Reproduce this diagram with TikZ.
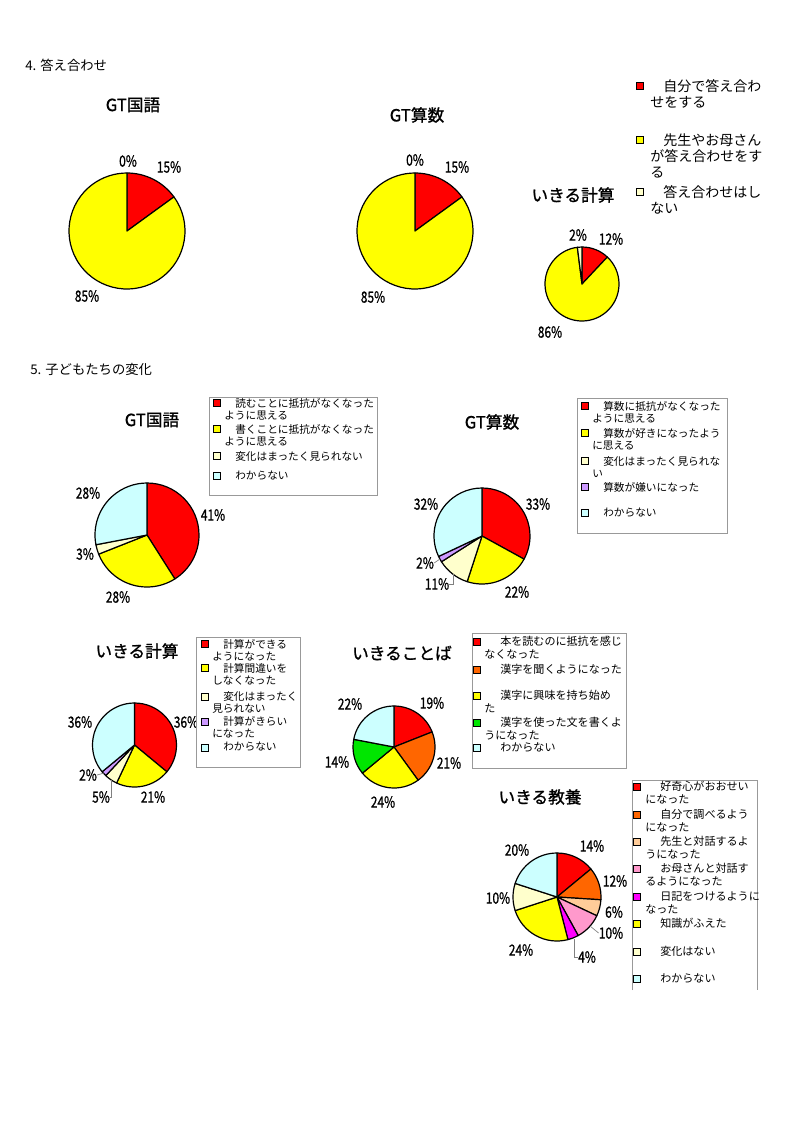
\documentclass[tikz,border=0pt]{standalone}
\usepackage{fontspec}
\usepackage{graphicx}
\setmainfont{Noto Sans CJK JP}[BoldFont=Noto Sans CJK JP, BoldFeatures={FakeBold=1.2}]
\usetikzlibrary{calc}
\definecolor{pieRed}{HTML}{FF0000}
\definecolor{pieYellow}{HTML}{FFFF00}
\definecolor{pieIvory}{HTML}{FFFFCC}
\definecolor{pieCyan}{HTML}{CCFFFF}
\definecolor{pieLilac}{HTML}{CC99FF}
\definecolor{pieOrange}{HTML}{FF6600}
\definecolor{pieGreen}{HTML}{00E600}
\definecolor{pieSalmon}{HTML}{FFCC99}
\definecolor{piePink}{HTML}{FF99CC}
\definecolor{pieMagenta}{HTML}{FF00FF}
\newcommand{\pctnum}[1]{\scalebox{0.78}[1]{#1}}
\newcommand{\drawpie}[3]{%
  \gdef\piesum{0}%
  \foreach \pct/\col in {#3}{%
    \pgfmathsetmacro{\pa}{-90+3.6*\piesum}%
    \pgfmathsetmacro{\pb}{-90+3.6*(\piesum+\pct)}%
    \filldraw[slice, fill=\col] (#1) -- ++(\pa:#2) arc[start angle=\pa, end angle=\pb, radius=#2] -- cycle;
    \pgfmathsetmacro{\piesumnew}{\piesum+\pct}%
    \global\let\piesum\piesumnew
  }%
}
\tikzset{
  slice/.style={draw=black, line width=0.9pt, line join=round},
  pct/.style={font=\fontsize{11.5}{13}\selectfont\bfseries, inner sep=0pt},
  charttitle/.style={font=\fontsize{12.5}{14}\selectfont\bfseries, inner sep=0pt},
  heading/.style={font=\fontsize{10}{12}\selectfont, anchor=west, inner sep=0pt},
  legframe/.style={draw=gray!80, fill=white, line width=0.6pt},
  key/.style={draw=black, line width=0.8pt, minimum size=5.5pt, inner sep=0pt},
  legtext/.style={align=left, anchor=north west, inner sep=0pt},
  leader/.style={draw=gray, line width=0.5pt}
}

\begin{document}
\begin{tikzpicture}[x=0.75pt, y=-0.75pt,
  legA/.style={legtext, font=\fontsize{10.5}{12}\selectfont},
  legB/.style={legtext, font=\fontsize{8}{9.2}\selectfont},
  legC/.style={legtext, font=\fontsize{8.3}{10}\selectfont}
]
\useasboundingbox (0,0) rectangle (793,1122);

% 4. answer checking
\node[heading] (h4) at (25,65) {4. 答え合わせ};

\node[charttitle] (t1) at (133,105) {GT国語};
\coordinate (c1) at (127,231);
\drawpie{c1}{58}{15/pieRed, 85/pieYellow}
\node[pct] (p1a) at (128,161) {\pctnum{0\%}};
\node[pct] (p1b) at (169,167) {\pctnum{15\%}};
\node[pct] (p1c) at (87,296) {\pctnum{85\%}};

\node[charttitle] (t2) at (417,115) {GT算数};
\coordinate (c2) at (415,231);
\drawpie{c2}{58}{15/pieRed, 85/pieYellow}
\node[pct] (p2a) at (415,160) {\pctnum{0\%}};
\node[pct] (p2b) at (457,167) {\pctnum{15\%}};
\node[pct] (p2c) at (373,297) {\pctnum{85\%}};

\node[charttitle] (t3) at (573,195) {いきる計算};
\coordinate (c3) at (582,284);
\drawpie{c3}{37}{12/pieRed, 86/pieYellow, 2/pieIvory}
\node[pct] (p3a) at (578,235) {\pctnum{2\%}};
\node[pct] (p3b) at (611,239) {\pctnum{12\%}};
\node[pct] (p3c) at (550,332) {\pctnum{86\%}};

\node[key, fill=pieRed] (k1a) at (640,86) {};
\node[key, fill=pieYellow] (k1b) at (640,140) {};
\node[key, fill=pieIvory] (k1c) at (640,192) {};
\node[legA] (e1a) at (650,79) {\hspace*{9.75pt}自分で答え合わ\\せをする};
\node[legA] (e1b) at (650,133) {\hspace*{9.75pt}先生やお母さん\\が答え合わせをす\\る};
\node[legA] (e1c) at (650,185) {\hspace*{9.75pt}答え合わせはし\\ない};

% 5. changes in the children
\node[heading] (h5) at (30,369) {5. 子どもたちの変化};

% GT kokugo
\node[charttitle] (t4) at (152,420) {GT国語};
\coordinate (c4) at (147,535);
\drawpie{c4}{52}{41/pieRed, 28/pieYellow, 3/pieIvory, 28/pieCyan}
\node[pct] (p4a) at (213,515) {\pctnum{41\%}};
\node[pct] (p4b) at (118,597) {\pctnum{28\%}};
\node[pct] (p4c) at (85,554) {\pctnum{3\%}};
\node[pct] (p4d) at (88,493) {\pctnum{28\%}};
\draw[legframe] (209,397) rectangle (377,495);
\node[key, fill=pieRed] (k4a) at (217,403) {};
\node[key, fill=pieYellow] (k4b) at (217,429) {};
\node[key, fill=pieIvory] (k4c) at (217,456) {};
\node[key, fill=pieCyan] (k4d) at (217,476) {};
\node[legB] (e4a) at (224,398) {\hspace*{8.25pt}読むことに抵抗がなくなった\\ように思える};
\node[legB] (e4b) at (224,424) {\hspace*{8.25pt}書くことに抵抗がなくなった\\ように思える};
\node[legB] (e4c) at (224,451) {\hspace*{8.25pt}変化はまったく見られない};
\node[legB] (e4d) at (224,471) {\hspace*{8.25pt}わからない};

% GT sansu
\node[charttitle] (t5) at (492,422) {GT算数};
\coordinate (c5) at (482,536);
\drawpie{c5}{48}{33/pieRed, 22/pieYellow, 11/pieIvory, 2/pieLilac, 32/pieCyan}
\node[pct] (p5a) at (538,504) {\pctnum{33\%}};
\node[pct] (p5b) at (517,592) {\pctnum{22\%}};
\node[pct] (p5c) at (437,584) {\pctnum{11\%}};
\node[pct] (p5d) at (425,563) {\pctnum{2\%}};
\node[pct] (p5e) at (426,504) {\pctnum{32\%}};
\coordinate (q5c) at (453,574);
\coordinate (q5d) at (440,559);
\draw[leader] (p5c.east) -| (q5c);
\draw[leader] (p5d.east) -- (q5d);
\draw[legframe] (577,398) rectangle (727,533);
\node[key, fill=pieRed] (k5a) at (585,406) {};
\node[key, fill=pieYellow] (k5b) at (585,433) {};
\node[key, fill=pieIvory] (k5c) at (585,461) {};
\node[key, fill=pieLilac] (k5d) at (585,487) {};
\node[key, fill=pieCyan] (k5e) at (585,513) {};
\node[legB] (e5a) at (592,401) {\hspace*{8.25pt}算数に抵抗がなくなった\\ように思える};
\node[legB] (e5b) at (592,428) {\hspace*{8.25pt}算数が好きになったよう\\に思える};
\node[legB] (e5c) at (592,456) {\hspace*{8.25pt}変化はまったく見られな\\い};
\node[legB] (e5d) at (592,482) {\hspace*{8.25pt}算数が嫌いになった};
\node[legB] (e5e) at (592,508) {\hspace*{8.25pt}わからない};

% ikiru keisan
\node[charttitle] (t6) at (137,651) {いきる計算};
\coordinate (c6) at (134.5,745);
\drawpie{c6}{42}{36/pieRed, 21/pieYellow, 5/pieIvory, 2/pieLilac, 36/pieCyan}
\node[pct] (p6a) at (186,722) {\pctnum{36\%}};
\node[pct] (p6b) at (153,797) {\pctnum{21\%}};
\node[pct] (p6c) at (101,797) {\pctnum{5\%}};
\node[pct] (p6d) at (88,775) {\pctnum{2\%}};
\node[pct] (p6e) at (80,722) {\pctnum{36\%}};
\coordinate (q6c) at (111,780);
\coordinate (q6d) at (104,773);
\draw[leader] (p6c.east) -| (q6c);
\draw[leader] (p6d.east) -- (q6d);
\draw[legframe] (196,637) rectangle (300,767);
\node[key, fill=pieRed] (k6a) at (205,644) {};
\node[key, fill=pieYellow] (k6b) at (205,668) {};
\node[key, fill=pieIvory] (k6c) at (205,697) {};
\node[key, fill=pieLilac] (k6d) at (205,722) {};
\node[key, fill=pieCyan] (k6e) at (205,748) {};
\node[legB] (e6a) at (212,639) {\hspace*{8.25pt}計算ができる\\ようになった};
\node[legB] (e6b) at (212,663) {\hspace*{8.25pt}計算間違いを\\しなくなった};
\node[legB] (e6c) at (212,691) {\hspace*{8.25pt}変化はまったく\\見られない};
\node[legB] (e6d) at (212,716) {\hspace*{8.25pt}計算がきらい\\になった};
\node[legB] (e6e) at (212,742) {\hspace*{8.25pt}わからない};

% ikiru kotoba
\node[charttitle] (t7) at (402,653) {いきることば};
\coordinate (c7) at (394,747);
\drawpie{c7}{41}{19/pieRed, 21/pieOrange, 24/pieYellow, 14/pieGreen, 22/pieCyan}
\node[pct] (p7a) at (432,703) {\pctnum{19\%}};
\node[pct] (p7b) at (449,763) {\pctnum{21\%}};
\node[pct] (p7c) at (383,802) {\pctnum{24\%}};
\node[pct] (p7d) at (337,762) {\pctnum{14\%}};
\node[pct] (p7e) at (350,704) {\pctnum{22\%}};
\draw[legframe] (472,633) rectangle (626,768);
\node[key, fill=pieRed] (k7a) at (477,642) {};
\node[key, fill=pieOrange] (k7b) at (477,670) {};
\node[key, fill=pieYellow] (k7c) at (477,696) {};
\node[key, fill=pieGreen] (k7d) at (477,723) {};
\node[key, fill=pieCyan] (k7e) at (477,748) {};
\node[legC] (e7a) at (484,636) {\hspace*{12pt}本を読むのに抵抗を感じ\\なくなった};
\node[legC] (e7b) at (484,664) {\hspace*{12pt}漢字を聞くようになった};
\node[legC] (e7c) at (484,690) {\hspace*{12pt}漢字に興味を持ち始め\\た};
\node[legC] (e7d) at (484,717) {\hspace*{12pt}漢字を使った文を書くよ\\うになった};
\node[legC] (e7e) at (484,742) {\hspace*{12pt}わからない};

% ikiru kyouyou
\node[charttitle] (t8) at (540,797) {いきる教養};
\coordinate (c8) at (557,897);
\drawpie{c8}{44}{14/pieRed, 12/pieOrange, 6/pieSalmon, 10/piePink, 4/pieMagenta, 24/pieYellow, 10/pieIvory, 20/pieCyan}
\node[pct] (p8a) at (592,846) {\pctnum{14\%}};
\node[pct] (p8b) at (615,881) {\pctnum{12\%}};
\node[pct] (p8c) at (614,912) {\pctnum{6\%}};
\node[pct] (p8d) at (611,933) {\pctnum{10\%}};
\node[pct] (p8e) at (587,957) {\pctnum{4\%}};
\node[pct] (p8f) at (521,950) {\pctnum{24\%}};
\node[pct] (p8g) at (498,898) {\pctnum{10\%}};
\node[pct] (p8h) at (517,850) {\pctnum{20\%}};
\coordinate (q8d) at (590,926);
\coordinate (q8e) at (574,939);
\draw[leader] (p8d.west) -- (q8d);
\draw[leader] (p8e.west) -| (q8e);
\fill[white] (632,780) rectangle (757,990);
\draw[legframe] (632,990) |- (757,780) -- (757,990);
\node[key, fill=pieRed] (k8a) at (637,787) {};
\node[key, fill=pieOrange] (k8b) at (637,815) {};
\node[key, fill=pieSalmon] (k8c) at (637,842) {};
\node[key, fill=piePink] (k8d) at (637,869) {};
\node[key, fill=pieMagenta] (k8e) at (637,897) {};
\node[key, fill=pieYellow] (k8f) at (637,924) {};
\node[key, fill=pieIvory] (k8g) at (637,952) {};
\node[key, fill=pieCyan] (k8h) at (637,979) {};
\node[legC] (e8a) at (645,781) {\hspace*{11.25pt}好奇心がおおせい\\になった};
\node[legC] (e8b) at (645,809) {\hspace*{11.25pt}自分で調べるよう\\になった};
\node[legC] (e8c) at (645,836) {\hspace*{11.25pt}先生と対話するよ\\うになった};
\node[legC] (e8d) at (645,863) {\hspace*{11.25pt}お母さんと対話す\\るようになった};
\node[legC] (e8e) at (645,891) {\hspace*{11.25pt}日記をつけるように\\なった};
\node[legC] (e8f) at (645,918) {\hspace*{11.25pt}知識がふえた};
\node[legC] (e8g) at (645,946) {\hspace*{11.25pt}変化はない};
\node[legC] (e8h) at (645,973) {\hspace*{11.25pt}わからない};
\end{tikzpicture}
\end{document}
